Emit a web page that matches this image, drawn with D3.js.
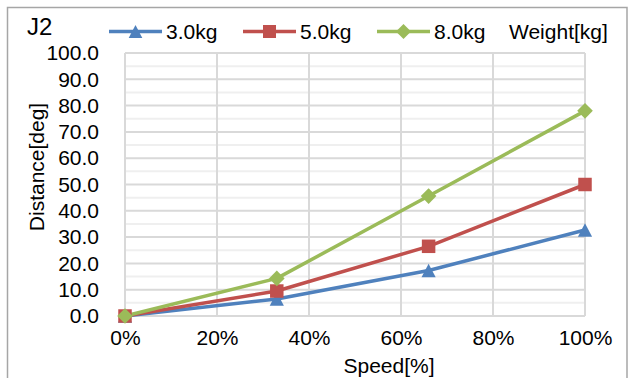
<!DOCTYPE html>
<html><head><meta charset="utf-8">
<script src="https://cdn.jsdelivr.net/npm/d3@7"></script>
<style>body{margin:0;background:#fff;}svg{display:block;font-family:Arial,"Liberation Sans",sans-serif;}</style>
</head><body>
<svg id="c" width="635" height="378"></svg>
<script>
const speeds = [0, 33, 66, 100];
const seriesNames = ["3.0kg", "5.0kg", "8.0kg"];
const values3 = [0, 6.5, 17.3, 32.7];
const values5 = [0, 9.5, 26.5, 50.0];
const values8 = [0, 14.3, 45.6, 78.0];
const yTicks = [0,10,20,30,40,50,60,70,80,90,100];
const xTicks = [0,20,40,60,80,100];
const colors = ["#4F81BD", "#C0504D", "#9BBB59"];
const markers = ["triangle", "square", "diamond"];

const svg = d3.select("#c");
const L = 125, R = 585, T = 53, B = 316;
const x = d3.scaleLinear().domain([0,100]).range([L,R]);
const y = d3.scaleLinear().domain([0,100]).range([B,T]);

// outer frame
svg.append("path").attr("d","M7.5,378 V7.5 H627 V378").attr("fill","none").attr("stroke","#a6a6a6").attr("stroke-width",1.5);

// minor gridlines
const minor = d3.range(5,100,10);
svg.append("g").selectAll("line").data(minor).join("line")
  .attr("x1",L).attr("x2",R).attr("y1",d=>y(d)).attr("y2",d=>y(d))
  .attr("stroke","#efefef").attr("stroke-width",2);
// major gridlines
svg.append("g").selectAll("line").data(yTicks).join("line")
  .attr("x1",L).attr("x2",R).attr("y1",d=>y(d)).attr("y2",d=>y(d))
  .attr("stroke","#d9d9d9").attr("stroke-width",2);
svg.append("g").selectAll("line").data(xTicks).join("line")
  .attr("x1",d=>x(d)).attr("x2",d=>x(d)).attr("y1",T).attr("y2",B)
  .attr("stroke","#d9d9d9").attr("stroke-width",2);

const FONT = "Arial,'Liberation Sans',sans-serif";
// axes labels via d3 axes
const yAxis = svg.append("g").attr("transform",`translate(${L},0)`)
  .call(d3.axisLeft(y).tickValues(yTicks).tickFormat(d3.format(".1f")).tickSize(0).tickPadding(26));
yAxis.select(".domain").remove();
yAxis.selectAll("text").attr("font-size",21).attr("fill","#000").attr("font-family",FONT);

const xAxis = svg.append("g").attr("transform",`translate(0,${B})`)
  .call(d3.axisBottom(x).tickValues(xTicks).tickFormat(d=>d+"%").tickSize(0).tickPadding(14));
xAxis.select(".domain").remove();
xAxis.selectAll("text").attr("font-size",21).attr("fill","#000").attr("font-family",FONT);

// titles
svg.append("text").attr("x",389).attr("y",373).attr("text-anchor","middle").attr("font-size",21).text("Speed[%]");
svg.append("text").attr("transform","translate(44,167) rotate(-90)").attr("text-anchor","middle").attr("font-size",21).text("Distance[deg]");
svg.append("text").attr("x",27).attr("y",35).attr("font-size",24).text("J2");
svg.append("text").attr("x",509).attr("y",39).attr("font-size",21).text("Weight[kg]");

function markerPath(type, s) {
  if (type === "triangle") { const h = s*0.5; return `M0,${-h}L${h*1.05},${h}L${-h*1.05},${h}Z`; }
  if (type === "square") { const h = s*0.5; return `M${-h},${-h}H${h}V${h}H${-h}Z`; }
  const h = s*0.58; return `M0,${-h}L${h},0L0,${h}L${-h},0Z`;
}

const allValues = [values3, values5, values8];
const line = d3.line().x((d,i)=>x(speeds[i])).y(d=>y(d));
allValues.forEach((vals, k) => {
  svg.append("path").datum(vals).attr("d", line).attr("fill","none")
    .attr("stroke",colors[k]).attr("stroke-width",3.5).attr("stroke-linejoin","round");
});
allValues.forEach((vals, k) => {
  svg.append("g").selectAll("path").data(vals).join("path")
    .attr("transform",(d,i)=>`translate(${x(speeds[i])},${y(d)})`)
    .attr("d", markerPath(markers[k], 13.5)).attr("fill",colors[k]);
});

// legend
const legX = [109, 243, 377];
seriesNames.forEach((n,k)=>{
  const g = svg.append("g");
  g.append("line").attr("x1",legX[k]).attr("x2",legX[k]+53).attr("y1",31.5).attr("y2",31.5)
    .attr("stroke",colors[k]).attr("stroke-width",3.5);
  g.append("path").attr("transform",`translate(${legX[k]+26.5},31.5)`).attr("d",markerPath(markers[k],13)).attr("fill",colors[k]);
  g.append("text").attr("x",legX[k]+57).attr("y",39).attr("font-size",21).text(n);
});
</script>
</body></html>
